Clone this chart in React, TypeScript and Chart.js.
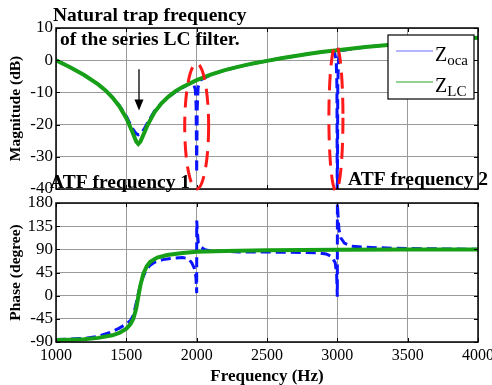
import React, { useEffect, useRef } from "react";
import { Chart, registerables } from "chart.js";

Chart.register(...registerables);

const FONT = "'Liberation Serif', 'Times New Roman', serif";
const GREEN = "#17a017";
const BLUE = "#0a14ff";
const RED = "#ff1a1a";
const GRID = "#9a9a9a";

// ---- axes ----
const freqMin = 1000;
const freqMax = 4000;
const freqStep = 500;
const magMin = -40;
const magMax = 10;
const magStep = 10;
const phaseMin = -90;
const phaseMax = 180;
const phaseStep = 45;

// ---- magnitude (dB) ----
const magLCFreq = [1000, 1100, 1200, 1300, 1350, 1400, 1450, 1500, 1540, 1570, 1585, 1600, 1625, 1650, 1700, 1750, 1800, 1850, 1900, 2000, 2100, 2200, 2300, 2400, 2500, 2600, 2700, 2800, 2900, 3000, 3200, 3400, 3600, 3800, 4000];
const magLC = [0, -2.2, -4.6, -7.5, -9.3, -11.5, -14.3, -18, -22, -25.2, -26, -25.3, -22.8, -20.2, -16.2, -13.4, -11.3, -9.6, -8.3, -6.2, -4.5, -3.1, -2.0, -1.0, -0.2, 0.6, 1.3, 2.0, 2.6, 3.1, 4.1, 4.9, 5.7, 6.4, 7.0];

const magOcaFreq = [1000, 1100, 1200, 1300, 1350, 1400, 1450, 1500, 1540, 1570, 1585, 1600, 1625, 1650, 1700, 1750, 1800, 1850, 1900, 1950, 1975, 1990, 1996, 2000, 2004, 2010, 2025, 2100, 2200, 2300, 2400, 2500, 2600, 2700, 2800, 2900, 2950, 2980, 2992, 2997, 3000, 3003, 3008, 3020, 3200, 3400, 3600, 3800, 4000];
const magOca = [0, -2.2, -4.6, -7.5, -9.3, -11.4, -14.1, -17.4, -21, -22.8, -23.2, -23, -21.5, -19.5, -15.8, -13.3, -11.4, -9.8, -8.5, -7.3, -7.0, -9, -14, -35, -15, -8.5, -6.2, -4.5, -3.1, -2.0, -1.0, -0.2, 0.6, 1.3, 2.0, 2.6, 2.8, 2.5, 0, -8, -50, -8, 0, 2.9, 4.1, 4.9, 5.7, 6.4, 7.0];

// ---- phase (degree) ----
const phaseLCFreq = [1000, 1100, 1200, 1300, 1400, 1450, 1500, 1530, 1550, 1570, 1585, 1600, 1620, 1645, 1670, 1720, 1790, 1900, 2000, 2200, 2500, 3000, 3500, 4000];
const phaseLC = [-86, -85.5, -84.5, -82, -77, -72.5, -64, -55, -45, -25, -2, 20, 42, 57, 66, 74, 79, 83, 85.5, 87, 88, 89, 89.5, 89.5];

const phaseOcaFreq = [1000, 1100, 1200, 1300, 1400, 1450, 1500, 1530, 1550, 1570, 1590, 1610, 1635, 1665, 1700, 1760, 1830, 1900, 1940, 1965, 1985, 1995, 2000, 2000.5, 2006, 2012, 2030, 2060, 2100, 2300, 2600, 2850, 2920, 2960, 2985, 2995, 3000, 3000.5, 3006, 3012, 3025, 3050, 3100, 3200, 3400, 3700, 4000];
const phaseOca = [-85, -84.5, -83, -79, -70, -63, -55, -48, -38, -15, 10, 30, 47, 58, 65, 70, 73, 74, 72, 64, 52, 35, 5, 146, 120, 102, 94, 89, 87, 85, 84.5, 83.5, 81, 76, 64, 42, -2, 179, 150, 128, 112, 102, 96, 94, 92, 91, 90];

// ---- annotations (data units) ----
const atfMarks = [
  { freq: 2000, halfHz: 85, top: -1, bottom: -40 },
  { freq: 2990, halfHz: 50, top: 4.7, bottom: -40.5 },
];
const trapArrow = { freq: 1590, from: -2.8, to: -15.6 };

const pts = (xs: number[], ys: number[]) => xs.map((x, i) => ({ x, y: ys[i] }));

const framePlugin = {
  id: "frame",
  afterDatasetsDraw(chart: any) {
    const { ctx, chartArea: a, scales } = chart;
    ctx.save();
    ctx.strokeStyle = "#000";
    ctx.lineWidth = 1;
    const L = 4;
    ctx.beginPath();
    scales.x.ticks.forEach((t: any) => {
      const px = Math.round(scales.x.getPixelForValue(t.value)) + 0.5;
      ctx.moveTo(px, a.bottom);
      ctx.lineTo(px, a.bottom - L);
      ctx.moveTo(px, a.top);
      ctx.lineTo(px, a.top + L);
    });
    scales.y.ticks.forEach((t: any) => {
      const py = Math.round(scales.y.getPixelForValue(t.value)) + 0.5;
      ctx.moveTo(a.left, py);
      ctx.lineTo(a.left + L, py);
      ctx.moveTo(a.right, py);
      ctx.lineTo(a.right - L, py);
    });
    ctx.stroke();
    ctx.lineWidth = 1.5;
    ctx.strokeRect(a.left, a.top, a.right - a.left, a.bottom - a.top);
    ctx.restore();
  },
};

const topAnnotations = {
  id: "topAnnotations",
  afterDraw(chart: any) {
    const { ctx, chartArea: a, scales } = chart;
    const xs = scales.x;
    const ys = scales.y;
    ctx.save();
    // red dashed ellipses
    ctx.strokeStyle = RED;
    ctx.lineWidth = 3;
    ctx.setLineDash([16, 9]);
    atfMarks.forEach((m) => {
      const cx = xs.getPixelForValue(m.freq);
      const rx = xs.getPixelForValue(m.freq + m.halfHz) - cx;
      const yt = ys.getPixelForValue(m.top);
      const yb = ys.getPixelForValue(m.bottom);
      ctx.beginPath();
      ctx.ellipse(cx, (yt + yb) / 2, rx, (yb - yt) / 2, 0, 0, Math.PI * 2);
      ctx.stroke();
    });
    ctx.setLineDash([]);
    // arrow
    const ax = xs.getPixelForValue(trapArrow.freq);
    const ay0 = ys.getPixelForValue(trapArrow.from);
    const ay1 = ys.getPixelForValue(trapArrow.to);
    ctx.strokeStyle = "#000";
    ctx.fillStyle = "#000";
    ctx.lineWidth = 1.3;
    ctx.beginPath();
    ctx.moveTo(ax, ay0);
    ctx.lineTo(ax, ay1 - 10);
    ctx.stroke();
    ctx.beginPath();
    ctx.moveTo(ax - 4.5, ay1 - 11);
    ctx.lineTo(ax + 4.5, ay1 - 11);
    ctx.lineTo(ax, ay1);
    ctx.closePath();
    ctx.fill();

    // legend
    const w = 86;
    const h = 64;
    const x0 = a.right - 4 - w;
    const y0 = a.top + 7;
    ctx.fillStyle = "#fff";
    ctx.fillRect(x0, y0, w, h);
    ctx.strokeStyle = "#000";
    ctx.lineWidth = 1.2;
    ctx.strokeRect(x0, y0, w, h);
    const rows = [
      { sub: "oca", color: "#6b6bff", dy: 16 },
      { sub: "LC", color: "#2aa52a", dy: 47 },
    ];
    rows.forEach((r) => {
      ctx.strokeStyle = r.color;
      ctx.lineWidth = 1.2;
      ctx.beginPath();
      ctx.moveTo(x0 + 8, y0 + r.dy);
      ctx.lineTo(x0 + 45, y0 + r.dy);
      ctx.stroke();
      ctx.fillStyle = "#000";
      ctx.textBaseline = "alphabetic";
      ctx.textAlign = "left";
      ctx.font = `20px ${FONT}`;
      ctx.fillText("Z", x0 + 47, y0 + r.dy + 10);
      const zw = ctx.measureText("Z").width;
      ctx.font = `15px ${FONT}`;
      ctx.fillText(r.sub, x0 + 47 + zw, y0 + r.dy + 14);
    });

    // texts
    ctx.fillStyle = "#000";
    ctx.font = `bold 19.5px ${FONT}`;
    ctx.textAlign = "left";
    ctx.textBaseline = "alphabetic";
    ctx.fillText("Natural trap frequency", a.left - 3, a.top - 7);
    ctx.fillText("of the series LC filter.", a.left + 4, a.top + 17);
    ctx.fillText("ATF frequency 1", a.left - 6, a.bottom - 1);
    ctx.fillText("ATF frequency 2", a.right - 130, a.bottom - 4);
    ctx.restore();
  },
};

const tickFont = { family: FONT, size: 17 };
const xTickFont = { family: FONT, size: 16 };

function yAxis(min: number, max: number, step: number, title: string) {
  return {
    type: "linear",
    min,
    max,
    ticks: {
      stepSize: step,
      padding: 3,
      color: "#000",
      font: tickFont,
      autoSkip: false,
      callback: (v: any) => String(v),
    },
    grid: { color: GRID, lineWidth: 1, drawTicks: false },
    border: { display: false },
    title: {
      display: true,
      text: title,
      color: "#000",
      font: { family: FONT, size: 15.5, weight: "bold", lineHeight: 1 },
      padding: { top: 8, bottom: 0 },
    },
    afterFit: (s: any) => {
      s.width = 56;
      s.paddingTop = 0;
      s.paddingBottom = 0;
    },
  };
}

export default function App() {
  const topRef = useRef<HTMLCanvasElement>(null);
  const botRef = useRef<HTMLCanvasElement>(null);

  useEffect(() => {
    const top = new Chart(topRef.current as HTMLCanvasElement, {
      type: "line",
      data: {
        datasets: [
          { label: "Z_LC", data: pts(magLCFreq, magLC), borderColor: GREEN, borderWidth: 4, pointRadius: 0, tension: 0, fill: false },
          { label: "Z_oca", data: pts(magOcaFreq, magOca), borderColor: BLUE, borderWidth: 3, borderDash: [10, 5], pointRadius: 0, tension: 0, fill: false },
        ],
      },
      options: {
        responsive: false,
        animation: false,
        maintainAspectRatio: false,
        layout: { padding: { left: 0, right: 14, top: 28, bottom: 11 } },
        plugins: { legend: { display: false }, tooltip: { enabled: false } },
        scales: {
          x: {
            type: "linear",
            min: freqMin,
            max: freqMax,
            ticks: { display: false, stepSize: freqStep },
            grid: { color: GRID, lineWidth: 1, drawTicks: false },
            border: { display: false },
            afterFit: (s: any) => {
              s.height = 0;
              s.paddingLeft = 0;
              s.paddingRight = 0;
            },
          },
          y: yAxis(magMin, magMax, magStep, "Magnitude (dB)"),
        },
      } as any,
      plugins: [framePlugin, topAnnotations],
    });

    const bot = new Chart(botRef.current as HTMLCanvasElement, {
      type: "line",
      data: {
        datasets: [
          { label: "Z_LC", data: pts(phaseLCFreq, phaseLC), borderColor: GREEN, borderWidth: 4, pointRadius: 0, tension: 0, fill: false },
          { label: "Z_oca", data: pts(phaseOcaFreq, phaseOca), borderColor: BLUE, borderWidth: 3, borderDash: [10, 5], pointRadius: 0, tension: 0, fill: false },
        ],
      },
      options: {
        responsive: false,
        animation: false,
        maintainAspectRatio: false,
        layout: { padding: { left: 0, right: 14, top: 13, bottom: 0 } },
        plugins: { legend: { display: false }, tooltip: { enabled: false } },
        scales: {
          x: {
            type: "linear",
            min: freqMin,
            max: freqMax,
            ticks: {
              stepSize: freqStep,
              padding: 4,
              color: "#000",
              font: xTickFont,
              maxRotation: 0,
              autoSkip: false,
              callback: (v: any) => String(v),
            },
            grid: { color: GRID, lineWidth: 1, drawTicks: false },
            border: { display: false },
            title: {
              display: true,
              text: "Frequency (Hz)",
              color: "#000",
              font: { family: FONT, size: 17, weight: "bold", lineHeight: 1 },
              padding: { top: 0, bottom: 0 },
            },
            afterFit: (s: any) => {
              s.height = 43;
              s.paddingLeft = 0;
              s.paddingRight = 0;
            },
          },
          y: yAxis(phaseMin, phaseMax, phaseStep, "Phase (degree)"),
        },
      } as any,
      plugins: [framePlugin],
    });

    return () => {
      top.destroy();
      bot.destroy();
    };
  }, []);

  return (
    <div style={{ position: "fixed", left: 0, top: 0, width: 492, height: 385, background: "#fff", overflow: "hidden" }}>
      <canvas ref={botRef} width={492} height={195} style={{ position: "absolute", left: 0, top: 190, width: 492, height: 195 }} />
      <canvas ref={topRef} width={492} height={200} style={{ position: "absolute", left: 0, top: 0, width: 492, height: 200 }} />
    </div>
  );
}
